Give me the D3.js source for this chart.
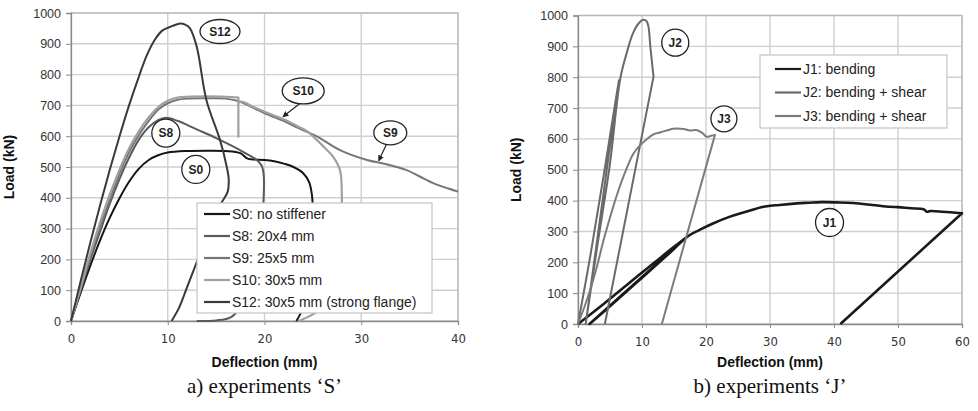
<!DOCTYPE html>
<html>
<head>
<meta charset="utf-8" />
<title>Load-deflection</title>
<script src="https://cdn.jsdelivr.net/npm/d3@7"></script>
<style>
  body { margin: 0; background: #fff; }
</style>
</head>
<body>
<svg id="chart" width="978" height="411" font-family="Liberation Sans, Arial, sans-serif"></svg>
<script>

// ---- data (deflection mm, load kN) ----
var S0  = [[0,0],[1,92],[2,180],[3,262],[4,335],[5,398],[6,452],[7,494],[8,522],[9,538],[10,547],[12,552],[14,553],[16,552],[17.5,545],[18.2,528],[18.6,525],[20,523],[21,519],[22,511],[23,500],[24,480],[24.6,452],[24.9,410],[25,330],[24.8,200],[24.3,90],[23.8,30],[23.3,0]];
var S8  = [[0,0],[1,100],[2,200],[3,290],[4,380],[5,460],[6,530],[7,588],[8,628],[9,652],[9.8,660],[11,650],[13,622],[15,594],[16.8,566],[18,545],[19.2,523],[19.7,505],[19.9,480],[19.9,393],[19.6,300],[19,200],[18.3,110],[17.5,45],[16.5,12],[15,2],[13,0]];
var S9  = [[0,0],[1,105],[2,210],[3,308],[4.1,400],[5,478],[6,548],[7,603],[8,648],[9,686],[10,707],[11,718],[12,722],[14,723],[16,722],[17.5,712],[19,690],[20.2,672],[21.9,651],[23,634],[24.4,614],[25.5,598],[27.8,555],[30.6,523],[32.5,510],[34.7,490],[36,470],[37.5,447],[39,430],[40,420]];
var S10 = [[0,0],[1,110],[2,220],[3,320],[4,410],[5,490],[6,560],[7,615],[8,660],[9,694],[10,715],[11,725],[12,728],[14,729],[16,728],[17.3,725],[17.3,725],[17.3,598],[17.3,598],[17.3,707],[17.3,707],[17.6,712],[19,693],[20.2,677],[21.9,656],[23.5,631],[24.4,616],[25.4,588],[26.3,560],[27.1,533],[27.8,490],[28,393],[27.9,250],[27.2,120],[25.8,40],[24,6],[23.5,0]];
var S12 = [[0,0],[1,130],[2,255],[3,375],[4,490],[5,598],[6,700],[7,792],[7.8,860],[8.6,910],[9.4,942],[10.5,958],[11.3,966],[11.8,962],[12.3,950],[13,890],[14,717],[15.4,588],[16.1,500],[16.3,460],[16.2,420],[15.5,380],[14.5,300],[13.5,230],[12.8,175],[12,110],[11.2,45],[10.4,0]];

var J1 = [[0,0],[4,65],[8,133],[12,200],[15,250],[17,282],[17,282],[1.8,0],[1.8,0],[6,76],[10,150],[14,224],[17.3,286],[19,305],[21,325],[23.75,348],[26,362],[29,380],[31.5,386],[34.2,391],[36,393],[38,395],[40.9,394],[43,392],[46,386],[48.75,380],[50,379],[52,375],[54,372],[54.5,364],[55,366],[57,364],[60,359],[60,359],[41,0]];
var J2 = [[0,0],[2,230],[4,480],[6,740],[6.4,790],[6.4,790],[1.2,0],[1.2,0],[3,250],[5,520],[6.6,795],[7.6,878],[8.6,943],[9.5,975],[10.2,986],[10.7,982],[11,965],[11.3,900],[11.6,840],[11.8,802],[11.8,802],[4.2,0]];
var J3 = [[0,0],[1,55],[1.9,110],[3,190],[4,272],[5,345],[5.5,380],[6.3,432],[7.1,478],[8.6,550],[9.5,575],[10.7,598],[11.8,615],[12.8,621],[14,628],[14.9,633],[16.5,632],[17.5,627],[18.5,629],[19.5,618],[20.1,607],[20.8,610],[21.4,613],[21.4,613],[13.1,0]];

var sNames  = ["S0: no stiffener", "S8: 20x4 mm", "S9: 25x5 mm", "S10: 30x5 mm", "S12: 30x5 mm (strong flange)"];
var sColors = ["#151515", "#5a5a5a", "#767676", "#a0a0a0", "#3a3a3a"];
var jNames  = ["J1: bending", "J2: bending + shear", "J3: bending + shear"];
var jColors = ["#1a1a1a", "#6a6a6a", "#7c7c7c"];

var loadTicks = [0,100,200,300,400,500,600,700,800,900,1000];
var sDefTicks = [0,10,20,30,40];
var jDefTicks = [0,10,20,30,40,50,60];

// labels on the curves: [text, x (mm), load (kN), rx, ry, arrow to x, arrow to load]
var sTags = [["S12",15.4,940,20,12],["S10",24,747,21,13,21.9,663],["S9",33,611,16.5,12,31.8,520],["S8",9.8,610,14,14],["S0",12.9,492,14,14]];
var jTags = [["J2",15.2,912,13.5,13.5],["J3",22.8,665,13,13],["J1",39.3,329,14,14]];

var svg = d3.select("#chart");

function panel(o) {
  var x = d3.scaleLinear().domain(o.xdom).range(o.xr);
  var y = d3.scaleLinear().domain([0, 1000]).range(o.yr);
  var g = svg.append("g");

  // grid
  g.append("g").selectAll("line").data(loadTicks.slice(1)).enter().append("line")
    .attr("x1", o.xr[0]).attr("x2", o.xr[1])
    .attr("y1", function(d){ return y(d); }).attr("y2", function(d){ return y(d); })
    .attr("stroke", "#cfcfcf").attr("stroke-width", 1.4);
  g.append("g").selectAll("line").data(o.xticks.slice(1)).enter().append("line")
    .attr("y1", o.yr[0]).attr("y2", o.yr[1])
    .attr("x1", function(d){ return x(d); }).attr("x2", function(d){ return x(d); })
    .attr("stroke", "#cfcfcf").attr("stroke-width", 1.4);
  g.append("rect")
    .attr("x", o.xr[0]).attr("y", o.yr[1])
    .attr("width", o.xr[1]-o.xr[0]).attr("height", o.yr[0]-o.yr[1])
    .attr("fill", "none").attr("stroke", "#b8b8b8").attr("stroke-width", 1.2);

  // axes
  var ya = g.append("g").attr("transform", "translate(" + o.xr[0] + ",0)")
    .call(d3.axisLeft(y).tickValues(loadTicks).tickFormat(d3.format("d")).tickSize(5).tickPadding(5));
  var xa = g.append("g").attr("transform", "translate(0," + o.yr[0] + ")")
    .call(d3.axisBottom(x).tickValues(o.xticks).tickFormat(d3.format("d")).tickSize(4).tickPadding(9));
  [ya, xa].forEach(function(a){
    a.attr("font-family", null).attr("font-size", null);
    a.select(".domain").attr("stroke", "#8a8a8a").attr("stroke-width", 1.3);
    a.selectAll(".tick line").attr("stroke", "#8a8a8a");
    a.selectAll("text").attr("fill", "#333").style("font-size", "12.5px")
      .style("font-family", "Liberation Sans, Arial, sans-serif");
  });
  xa.selectAll("text").style("font-family", "'Liberation Sans Narrow', 'DejaVu Sans Condensed', sans-serif")
    .style("font-size", "13px");

  // curves
  var line = d3.line().curve(d3.curveCatmullRom.alpha(0.5))
    .x(function(d){ return x(d[0]); }).y(function(d){ return y(d[1]); });
  g.append("g").selectAll("path").data(o.series).enter().append("path")
    .attr("d", line).attr("fill", "none")
    .attr("stroke", function(d, i){ return o.colors[i]; })
    .attr("stroke-width", function(d, i){ return o.widths[i]; })
    .attr("stroke-linejoin", "round");

  // tags
  var tg = g.append("g").selectAll("g").data(o.tags).enter().append("g");
  tg.filter(function(d){ return d.length > 5; }).append("line")
    .attr("x1", function(d){ return x(d[1]) - 4; }).attr("y1", function(d){ return y(d[2]) + d[4]; })
    .attr("x2", function(d){ return x(d[5]); }).attr("y2", function(d){ return y(d[6]); })
    .attr("stroke", "#222").attr("stroke-width", 1.2).attr("marker-end", "url(#arr)");
  tg.append("ellipse")
    .attr("cx", function(d){ return x(d[1]); }).attr("cy", function(d){ return y(d[2]); })
    .attr("rx", function(d){ return d[3]; }).attr("ry", function(d){ return d[4]; })
    .attr("fill", "#fff").attr("stroke", "#222").attr("stroke-width", 1.3);
  tg.append("text")
    .attr("x", function(d){ return x(d[1]); }).attr("y", function(d){ return y(d[2]); })
    .attr("dy", "0.36em").attr("text-anchor", "middle")
    .attr("font-size", "12px").attr("font-weight", "bold").attr("fill", "#222")
    .text(function(d){ return d[0]; });

  // legend
  var lg = g.append("g");
  lg.append("rect").attr("x", o.leg[0]).attr("y", o.leg[1]).attr("width", o.leg[2]).attr("height", o.leg[3])
    .attr("fill", "#fff").attr("stroke", "#c4c4c4").attr("stroke-width", 1.2);
  var row = lg.selectAll("g").data(o.names).enter().append("g")
    .attr("transform", function(d, i){ return "translate(" + (o.leg[0] + o.leg[4]) + "," + (o.leg[1] + o.leg[5] + i * o.leg[6]) + ")"; });
  row.append("line").attr("x1", 0).attr("x2", 26)
    .attr("stroke", function(d, i){ return o.colors[i]; }).attr("stroke-width", 2.2);
  row.append("text").attr("x", 28).attr("dy", "0.35em").attr("font-size", "14px").attr("fill", "#222")
    .text(function(d){ return d; });

  // titles
  var cx = (o.xr[0] + o.xr[1]) / 2;
  g.append("text").attr("x", cx).attr("y", 367).attr("text-anchor", "middle")
    .attr("font-size", "14px").attr("font-weight", "bold").attr("fill", "#111").text("Deflection (mm)");
  g.append("text").attr("transform", "translate(" + o.ylab + "," + ((o.yr[0] + o.yr[1]) / 2) + ")rotate(-90)")
    .attr("text-anchor", "middle")
    .attr("font-size", "14px").attr("font-weight", "bold").attr("fill", "#111").text("Load (kN)");
  g.append("text").attr("x", cx).attr("y", 393).attr("text-anchor", "middle")
    .style("font-family", "'Liberation Serif', 'Times New Roman', serif").attr("font-size", "21px").attr("fill", "#111")
    .text(o.caption);
}

svg.append("defs").append("marker").attr("id", "arr")
  .attr("viewBox", "0 0 10 10").attr("refX", 9).attr("refY", 5)
  .attr("markerWidth", 5).attr("markerHeight", 5).attr("orient", "auto")
  .append("path").attr("d", "M0,0L10,5L0,10z").attr("fill", "#222");

panel({
  xdom: [0, 40], xr: [71, 458], yr: [321, 13], xticks: sDefTicks,
  series: [S0, S8, S9, S10, S12], colors: sColors, widths: [2, 2, 2, 2.2, 2],
  names: sNames, tags: sTags,
  leg: [197, 203, 235, 110, 7, 11, 22],
  ylab: 14, caption: "a) experiments \u2018S\u2019"
});

panel({
  xdom: [0, 60], xr: [578, 962], yr: [324, 15.5], xticks: jDefTicks,
  series: [J1, J2, J3], colors: jColors, widths: [2.6, 2, 2],
  names: jNames, tags: jTags,
  leg: [760, 55, 187, 73, 15, 14, 23.5],
  ylab: 521, caption: "b) experiments \u2018J\u2019"
});

</script>
</body>
</html>
